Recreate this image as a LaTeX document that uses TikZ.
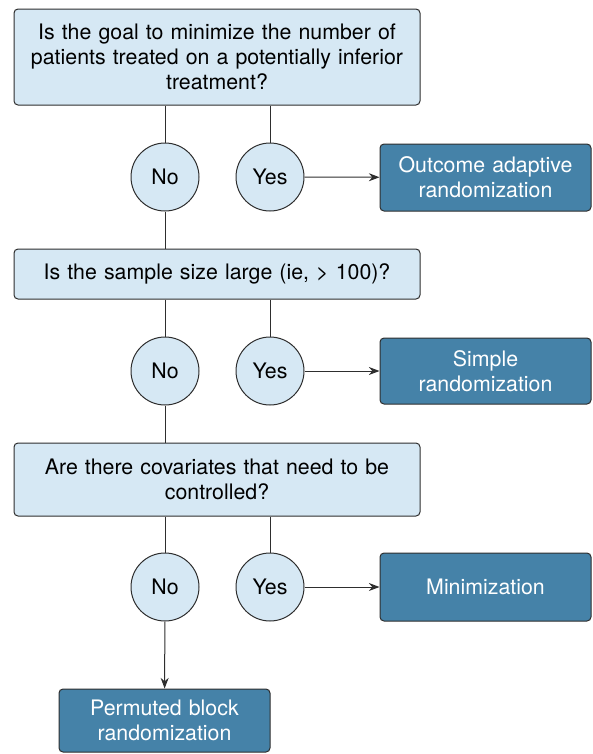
\documentclass[tikz,border=0pt]{standalone}
\usepackage{fontspec}
\setmainfont{TeX Gyre Heros}
\usetikzlibrary{arrows.meta, positioning}
\definecolor{qfill}{HTML}{D6E8F4}
\definecolor{rfill}{HTML}{4582A8}
\definecolor{edge}{HTML}{2E2E2E}
\tikzset{
  qbox/.style ={rectangle, rounded corners=3pt, draw=edge, fill=qfill, align=center, inner sep=3pt, text width=296pt, minimum width=304.5pt, font=\fontsize{16}{18.75}\selectfont},
  rbox/.style ={rectangle, rounded corners=3pt, draw=edge, fill=rfill, text=white, align=center, inner sep=3pt, text width=150pt, minimum width=158.25pt, font=\fontsize{16}{18.75}\selectfont},
  ans/.style  ={circle, draw=edge, fill=qfill, minimum size=51pt, inner sep=0pt, font=\fontsize{16}{18.75}\selectfont},
  ln/.style   ={draw=edge, line width=0.75pt},
  fl/.style   ={ln, -{Stealth[length=8pt, width=6pt]}},
}

\begin{document}
\begin{tikzpicture}[x=0.75pt, y=-0.75pt, line width=0.75pt]
  \useasboundingbox (0,0) rectangle (593,754);
  % questions
  \node[qbox, minimum height=72pt] (q1) at (217,57) {Is the goal to minimize the number of\\patients treated on a potentially inferior\\treatment?};
  \node[qbox, minimum height=37.5pt] (q2) at (217,274) {Is the sample size large (ie, > 100)?};
  \node[qbox, minimum height=54.75pt] (q3) at (217,479.5) {Are there covariates that need to be\\controlled?};
  % answers
  \node[ans] (n1) at (165,177) {No};
  \node[ans] (y1) at (270,177) {Yes};
  \node[ans] (n2) at (165,371) {No};
  \node[ans] (y2) at (270,371) {Yes};
  \node[ans] (n3) at (165,587) {No};
  \node[ans] (y3) at (270,587) {Yes};
  % results
  \node[rbox, minimum height=50.25pt] (r1) at (485.5,177.5) {Outcome adaptive\\randomization};
  \node[rbox, minimum height=49.5pt] (r2) at (485.5,371) {Simple\\randomization};
  \node[rbox, minimum height=51pt] (r3) at (485.5,587) {Minimization};
  \node[rbox, minimum height=47.25pt] (r4) at (164.5,720.5) {Permuted block\\randomization};
  % connectors
  \draw[ln] (q1.south -| n1) -- (n1);
  \draw[ln] (q1.south -| y1) -- (y1);
  \draw[fl] (y1) -- (r1);
  \draw[ln] (n1) -- (q2.north -| n1);
  \draw[ln] (q2.south -| n2) -- (n2);
  \draw[ln] (q2.south -| y2) -- (y2);
  \draw[fl] (y2) -- (r2);
  \draw[ln] (n2) -- (q3.north -| n2);
  \draw[ln] (q3.south -| n3) -- (n3);
  \draw[ln] (q3.south -| y3) -- (y3);
  \draw[fl] (y3) -- (r3);
  \draw[fl] (n3) -- (r4);
\end{tikzpicture}
\end{document}
